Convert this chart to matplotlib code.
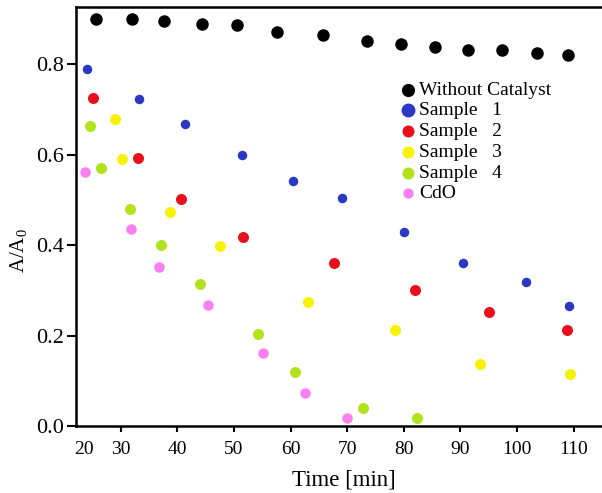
import matplotlib
matplotlib.use('Agg')
import matplotlib.pyplot as plt

plt.rcParams['font.family'] = ['Liberation Serif', 'DejaVu Serif']
plt.rcParams['mathtext.default'] = 'regular'

# data
t_blank = [25.6, 32.0, 37.7, 44.4, 50.5, 57.6, 65.7, 73.5, 79.5, 85.5, 91.3, 97.3, 103.5, 109.0]
a_blank = [0.900, 0.900, 0.895, 0.889, 0.887, 0.870, 0.864, 0.851, 0.845, 0.838, 0.832, 0.832, 0.825, 0.821]

t_s1 = [24.1, 33.2, 41.3, 51.5, 60.4, 69.1, 80.0, 90.5, 101.5, 109.1]
a_s1 = [0.789, 0.722, 0.667, 0.599, 0.542, 0.503, 0.428, 0.361, 0.318, 0.265]

t_s2 = [25.05, 33.1, 40.7, 51.55, 67.6, 81.9, 95.1, 108.9]
a_s2 = [0.724, 0.593, 0.501, 0.417, 0.361, 0.301, 0.253, 0.213]

t_s3 = [29.05, 30.2, 38.7, 47.5, 63.1, 78.5, 93.5, 109.4]
a_s3 = [0.679, 0.591, 0.473, 0.397, 0.274, 0.213, 0.138, 0.116]

t_s4 = [24.6, 26.5, 31.6, 37.2, 44.0, 54.3, 60.8, 72.8, 82.4]
a_s4 = [0.662, 0.570, 0.479, 0.400, 0.314, 0.204, 0.120, 0.039, 0.018]

t_cdo = [23.75, 31.8, 36.8, 45.5, 55.1, 62.6, 70.0]
a_cdo = [0.561, 0.436, 0.352, 0.267, 0.162, 0.073, 0.018]

xtick_pos = [23.5, 30, 40, 50, 60, 70, 80, 90, 100, 110]
xtick_labels = ['20', '30', '40', '50', '60', '70', '80', '90', '100', '110']
ytick_pos = [0.0, 0.2, 0.4, 0.6, 0.8]

fig = plt.figure(figsize=(6.02, 4.93), dpi=100)
ax = fig.add_axes([76 / 602, 67 / 493, 526 / 602, 419 / 493])

ax.scatter(t_blank, a_blank, s=81, color='black', lw=0, label='Without Catalyst', zorder=3)
ax.scatter(t_s1, a_s1, s=47, color='#2b39c2', lw=0, label='Sample   1', zorder=3)
ax.scatter(t_s2, a_s2, s=63, color='#e8101c', lw=0, label='Sample   2', zorder=3)
ax.scatter(t_s3, a_s3, s=63, color='#f7f205', lw=0, label='Sample   3', zorder=3)
ax.scatter(t_s4, a_s4, s=63, color='#b0e31e', lw=0, label='Sample   4', zorder=3)
ax.scatter(t_cdo, a_cdo, s=57, color='#fa80f2', lw=0, label='CdO', zorder=3)

ax.set_xlim(22.1, 115.0)
ax.set_ylim(0, 0.926)

ax.set_xticks(xtick_pos)
ax.set_xticklabels(xtick_labels)
ax.set_yticks(ytick_pos)
ax.set_yticklabels([f'{v:.1f}' for v in ytick_pos])
ax.xaxis.get_major_ticks()[0].tick1line.set_visible(False)

ax.tick_params(axis='x', direction='out', length=4, width=1.5, labelsize=14, pad=7)
ax.tick_params(axis='y', direction='out', length=6.5, width=1.5, labelsize=16, pad=2)

for side in ['left', 'bottom', 'top']:
    ax.spines[side].set_linewidth(1.8)
ax.spines['right'].set_visible(False)

ax.set_xlabel('Time [min]', fontsize=16.5)
ax.xaxis.set_label_coords(0.51, -0.103)
ax.set_ylabel('A/A$_0$', fontsize=15)
ax.yaxis.set_label_coords(-0.089, 0.418)

leg = ax.legend(loc='upper left', bbox_to_anchor=(0.613, 0.823), frameon=False,
                fontsize=14, labelspacing=0.16, handletextpad=0.05, handlelength=1.0,
                borderpad=0, borderaxespad=0)
# legend dots are drawn about the same size in the reference
for h, s in zip(leg.legend_handles, [90, 100, 75, 75, 75, 55]):
    h.set_sizes([s])

fig.savefig('out.png', dpi=100)
